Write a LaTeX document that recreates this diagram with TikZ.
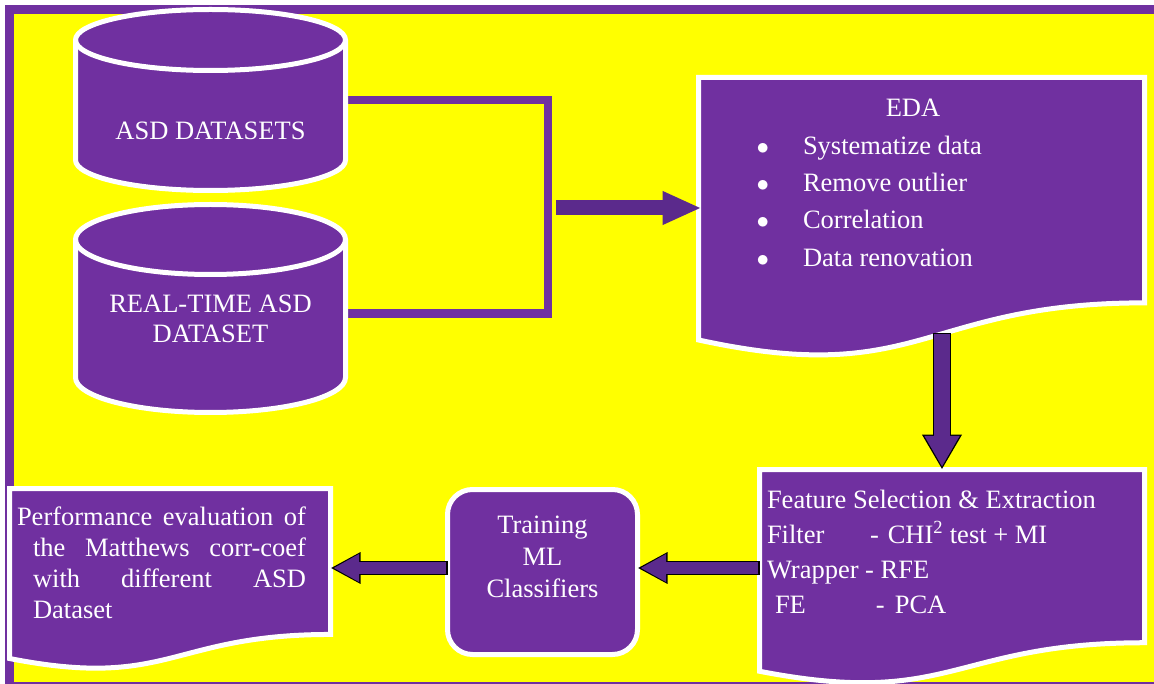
\documentclass[tikz,border=0pt]{standalone}
\usepackage{fontspec}
\setmainfont{Liberation Serif}
\usepackage{xcolor}
\usepackage{tikz}
\usetikzlibrary{positioning}
\usetikzlibrary{calc,arrows.meta,backgrounds}

\definecolor{boxpurple}{HTML}{7030A0}
\definecolor{arrowpurple}{HTML}{5B2A8C}
\definecolor{bgyellow}{HTML}{FFFF00}

% cylinder outline round a text node
\newcommand{\drum}[2]{%
  \path[shell] ([yshift=-#2pt]#1.north west)
     arc[start angle=180, end angle=0, x radius=135pt, y radius=#2pt]
     -- ([yshift=#2pt]#1.south east)
     arc[start angle=0, end angle=-180, x radius=135pt, y radius=#2pt] -- cycle;
  \draw[white, line width=5pt] ([yshift=-#2pt]#1.north west)
     arc[start angle=180, end angle=360, x radius=135pt, y radius=#2pt];}

% document outline with wavy bottom round a text node
\newcommand{\docpage}[1]{%
  \path[shell] (#1.north west) -- (#1.north east)
     -- ($(#1.south east)!0.198!(#1.north east)$)
     .. controls ($(#1.south)!0.198!(#1.north)$) and ($(#1.south)!-0.107!(#1.north)$)
     .. ($(#1.south west)!0.066!(#1.north west)$) -- cycle;}

\newcommand{\edaitem}{\hspace*{58pt}\makebox[46.5pt][l]{$\bullet$}}

\begin{document}
\begin{tikzpicture}
  [x=1pt, y=1pt,
   txt/.style = {inner sep=0pt, outer sep=0pt, text=white, font=\fontsize{26.5}{35}\selectfont},
   shell/.style = {fill=boxpurple, draw=white, line width=5pt},
   bracketline/.style = {draw=boxpurple, line width=8.5pt},
   rightfat/.style = {draw=arrowpurple, line width=15pt, -{Triangle[length=39pt 0 0, width=31pt 0 0]}},
   downfat/.style = {draw=arrowpurple, line width=15.5pt, shorten <=1.25pt, shorten >=2.6pt,
       -{Triangle[length=31pt 0 0, width=33pt 0 0]},
       preaction={draw=black, line width=18pt, shorten <=0pt, shorten >=0pt,
                  -{Triangle[length=35pt 0 0, width=37.5pt 0 0]}},
       postaction={draw=arrowpurple, line width=15.5pt, -, shorten >=20pt}},
   leftfat/.style = {draw=arrowpurple, line width=11.5pt, shorten <=1.25pt, shorten >=2.8pt,
       -{Triangle[length=25.7pt 0 0, width=26pt 0 0]},
       preaction={draw=black, line width=14pt, shorten <=0pt, shorten >=0pt,
                  -{Triangle[length=30pt 0 0, width=29.5pt 0 0]}},
       postaction={draw=arrowpurple, line width=11.5pt, -, shorten >=16pt}}]

  \useasboundingbox (0,0) rectangle (1154,-684);

  \node[txt] (asd) at (210.5,-100)
    {\parbox[c][181pt][t]{270pt}{\centering\rule{0pt}{130.5pt}ASD DATASETS}};
  \node[txt] (rt) at (210.5,-308.5)
    {\parbox[c][208pt][t]{270pt}{\centering\fontsize{26.5}{30}\selectfont
      \rule{0pt}{108.5pt}REAL-TIME ASD\\DATASET}};

  \node[txt] (eda) at (921.5,-218)
    {\parbox[c][281pt][t]{446pt}{\fontsize{26.5}{37.3}\selectfont
      {\centering\rule{0pt}{39.5pt}\hspace*{-17pt}EDA\par}
      \edaitem Systematize data\par
      \edaitem Remove outlier\par
      \edaitem Correlation\par
      \edaitem Data renovation}};

  \node[txt] (fs) at (952,-577.5)
    {\parbox[c][216pt][t]{385pt}{\raggedright\leftskip=7.5pt
      \rule{0pt}{38.5pt}Feature Selection \& Extraction\\
      \makebox[103pt][l]{Filter}-\hspace{9pt}CHI\textsuperscript{2} test + MI\\
      Wrapper - RFE\\
      \hspace*{8pt}\makebox[101pt][l]{FE}-\hspace{10pt}PCA}};

  \node[txt, shell, rounded corners=25pt] (train) at (542.5,-572)
    {\parbox[c][165pt][t]{190pt}{\centering\fontsize{26.5}{32}\selectfont
      \rule{0pt}{43.5pt}Training\\ML\\Classifiers}};

  \node[txt] (perf) at (170,-579.5)
    {\parbox[c][182pt][t]{321pt}{\fontsize{26.5}{31}\selectfont\tolerance=10000
      \leftskip=7.5pt\rightskip=24.5pt\hangindent=16pt\hangafter=1
      \rule{0pt}{36.5pt}Performance evaluation of\linebreak
      the Matthews corr-coef\linebreak
      with different ASD\linebreak
      Dataset}};

  \coordinate (split) at (548,-208);
  \coordinate (edaout) at ([xshift=20.5pt,yshift=25.5pt]eda.south);
  \coordinate (fsout) at ([yshift=9.5pt]fs.west);

  % frame, outlines and the bracket behind the texts
  \begin{scope}[on background layer]
    \fill[white] (0,0) rectangle (1154,-684);
    \fill[boxpurple] (5,-5) rectangle (1154,-684);
    \fill[bgyellow] (14,-14) rectangle (1154,-682);
    \draw[bracketline] (asd.east) -| (split) |- ([yshift=-5pt]rt.east);
    \drum{asd}{30.5}
    \drum{rt}{35}
    \docpage{eda}
    \docpage{fs}
    \docpage{perf}
  \end{scope}

  \draw[rightfat] ([xshift=8pt]split) -- ([xshift=3pt]split -| eda.west);
  \draw[downfat] (edaout) -- (edaout |- fs.north);
  \draw[leftfat] (fsout) -- (fsout -| train.east);
  \draw[leftfat] (fsout -| train.west) -- (fsout -| perf.east);
\end{tikzpicture}
\end{document}
